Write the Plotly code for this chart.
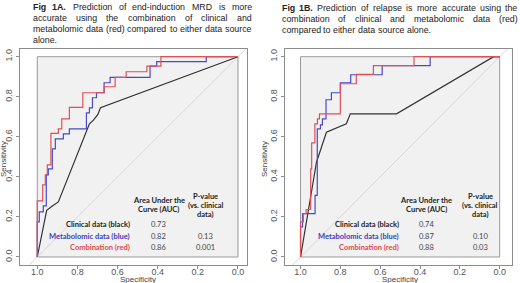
import plotly.graph_objects as go

W, H = 520, 283

# ---------------- data ----------------
# Panel A (end-induction MRD)
a_black_spec = [1.0, 0.953, 0.925, 0.895, 0.74, 0.72, 0.698, 0.685, 0.0]
a_black_sens = [0.0, 0.233, 0.255, 0.275, 0.665, 0.683, 0.712, 0.745, 1.0]

a_blue_spec = [1.0, 1.0, 0.99, 0.99, 0.97, 0.97, 0.955, 0.955, 0.945, 0.945, 0.925, 0.925,
               0.91, 0.91, 0.87, 0.87, 0.84, 0.84, 0.755, 0.755, 0.74, 0.74, 0.725, 0.725,
               0.705, 0.705, 0.667, 0.667, 0.637, 0.637, 0.438, 0.438, 0.405, 0.405,
               0.158, 0.158, 0.0]
a_blue_sens = [0.0, 0.175, 0.175, 0.225, 0.225, 0.255, 0.255, 0.41, 0.41, 0.44, 0.44, 0.54,
               0.54, 0.59, 0.59, 0.615, 0.615, 0.64, 0.64, 0.72, 0.72, 0.745, 0.745, 0.795,
               0.795, 0.82, 0.82, 0.87, 0.87, 0.897, 0.897, 0.953, 0.953, 0.975,
               0.975, 1.0, 1.0]

a_red_spec = [1.0, 1.0, 0.973, 0.973, 0.96, 0.96, 0.95, 0.95, 0.932, 0.932, 0.895, 0.895,
              0.878, 0.878, 0.84, 0.84, 0.773, 0.773, 0.667, 0.667, 0.612, 0.612,
              0.557, 0.557, 0.454, 0.454, 0.384, 0.384, 0.0]
a_red_sens = [0.0, 0.28, 0.28, 0.36, 0.36, 0.41, 0.41, 0.46, 0.46, 0.617, 0.617, 0.64,
              0.64, 0.69, 0.69, 0.747, 0.747, 0.82, 0.82, 0.85, 0.85, 0.897,
              0.897, 0.925, 0.925, 0.953, 0.953, 1.0, 1.0]

# Panel B (relapse)
b_black_spec = [1.0, 0.92, 0.87, 0.77, 0.75, 0.518, 0.03, 0.0]
b_black_sens = [0.0, 0.473, 0.623, 0.665, 0.715, 0.715, 1.0, 1.0]

b_blue_spec = [1.0, 1.0, 0.99, 0.99, 0.927, 0.927, 0.916, 0.916, 0.9, 0.9, 0.89, 0.89,
               0.872, 0.872, 0.845, 0.845, 0.8, 0.8, 0.748, 0.748, 0.59, 0.59,
               0.349, 0.349, 0.0]
b_blue_sens = [0.0, 0.15, 0.15, 0.217, 0.217, 0.308, 0.308, 0.64, 0.64, 0.66, 0.66, 0.69,
               0.69, 0.785, 0.785, 0.82, 0.82, 0.87, 0.87, 0.91, 0.91, 0.955,
               0.955, 1.0, 1.0]

b_red_spec = [1.0, 1.0, 0.986, 0.986, 0.972, 0.972, 0.949, 0.949, 0.944, 0.944, 0.928, 0.928,
              0.915, 0.915, 0.905, 0.905, 0.8, 0.8, 0.72, 0.72, 0.634, 0.634,
              0.43, 0.43, 0.0]
b_red_sens = [0.0, 0.175, 0.175, 0.217, 0.217, 0.237, 0.237, 0.44, 0.44, 0.57, 0.57, 0.665,
              0.665, 0.69, 0.69, 0.715, 0.715, 0.865, 0.865, 0.912, 0.912, 0.955,
              0.955, 1.0, 1.0]

tick_vals = [1.0, 0.8, 0.6, 0.4, 0.2, 0.0]
tick_text = ["1.0", "0.8", "0.6", "0.4", "0.2", "0.0"]

row_labels = ["Clinical data (black)", "Metabolomic data (blue)", "Combination (red)"]
a_auc = ["0.73", "0.82", "0.86"]
a_pval = ["", "0.13", "0.001"]
b_auc = ["0.74", "0.87", "0.88"]
b_pval = ["", "0.10", "0.03"]

a_caption = ["<b>Fig</b> <b>1A.</b> Prediction of end-induction MRD is more",
             "accurate using the combination of clinical and",
             "metabolomic data (red) compared to either data source",
             "alone."]
b_caption = ["<b>Fig</b> <b>1B.</b> Prediction of relapse is more accurate using the",
             "combination of clinical and metabolomic data (red)",
             "compared to either data source alone."]

# ---------------- styling ----------------
C_BLACK = "#333333"
C_BLUE = "#4848cc"
C_RED = "#e05058"
C_DIAG = "#d6d6d6"
C_BOX = "#9a9a9a"
FONT_R = "Liberation Sans"
FONT_C = "Lato"

# Arial / Liberation Sans advance widths (per 1000 em)
AW = {' ': 278, '(': 333, ')': 333, '-': 333, '.': 278, ',': 278,
      'A': 667, 'B': 667, 'C': 722, 'D': 722, 'E': 667, 'F': 611, 'G': 778, 'H': 722, 'I': 278,
      'M': 833, 'R': 722, 'P': 667,
      'a': 556, 'b': 556, 'c': 500, 'd': 556, 'e': 556, 'f': 278, 'g': 556, 'h': 556, 'i': 222,
      'j': 222, 'k': 500, 'l': 222, 'm': 833, 'n': 556, 'o': 556, 'p': 556, 'q': 556, 'r': 333,
      's': 500, 't': 278, 'u': 556, 'v': 500, 'w': 722, 'x': 500, 'y': 500, 'z': 500}
AWB = {'F': 611, 'i': 278, 'g': 611, 'A': 722, 'B': 722, '.': 278}
for d in '0123456789':
    AW[d] = 556
    AWB[d] = 556


def word_w(tok):
    bold = tok.startswith("<b>")
    t = tok.replace("<b>", "").replace("</b>", "")
    tot = 0
    for ch in t:
        if bold:
            tot += AWB.get(ch, AW.get(ch, 556))
        else:
            tot += AW.get(ch, 556)
    return tot / 1000.0


fig = go.Figure()

def px2paper_x(px):
    return px / W

def px2paper_y(py):
    return 1 - py / H

y_dom = [px2paper_y(265), px2paper_y(48.7)]
panels = [
    dict(xa="x", ya="y"),
    dict(xa="x2", ya="y2"),
]

datasets = [
    [(a_black_spec, a_black_sens, C_BLACK), (a_blue_spec, a_blue_sens, C_BLUE), (a_red_spec, a_red_sens, C_RED)],
    [(b_black_spec, b_black_sens, C_BLACK), (b_blue_spec, b_blue_sens, C_BLUE), (b_red_spec, b_red_sens, C_RED)],
]

for p, ds in zip(panels, datasets):
    fig.add_trace(go.Scatter(x=[1.2, -0.2], y=[-0.2, 1.2], mode="lines",
                             line=dict(color=C_DIAG, width=1), xaxis=p["xa"], yaxis=p["ya"],
                             hoverinfo="skip", showlegend=False))
    for sx, sy, col in ds:
        fig.add_trace(go.Scatter(x=sx, y=sy, mode="lines", line=dict(color=col, width=1.2),
                                 xaxis=p["xa"], yaxis=p["ya"], showlegend=False))
    fig.add_shape(type="rect", xref=p["xa"], yref=p["ya"], x0=1, x1=0, y0=0, y1=1,
                  fillcolor="#f1f1f1", line=dict(color=C_BOX, width=1), layer="below")

axis_common = dict(showgrid=False, zeroline=False, showline=True, mirror=True, automargin=False,
                   linecolor="#8c8c8c", linewidth=1, ticks="outside", ticklen=3,
                   tickcolor="#8c8c8c", tickvals=tick_vals, ticktext=tick_text,
                   tickfont=dict(family=FONT_R, size=9, color="#555555"))

fig.update_layout(
    template="none",
    width=W, height=H, margin=dict(l=0, r=0, t=0, b=0, pad=0), autosize=False,
    paper_bgcolor="white", plot_bgcolor="white",
    xaxis=dict(domain=[px2paper_x(20), px2paper_x(247)], range=[1.086, -0.045], anchor="y",
               ticklabelstandoff=-5, **axis_common),
    yaxis=dict(domain=y_dom, range=[-0.04, 1.04], anchor="x", tickangle=-90, **axis_common),
    xaxis2=dict(domain=[px2paper_x(285), px2paper_x(512)], range=[1.078, -0.062], anchor="y2",
                ticklabelstandoff=-5, **axis_common),
    yaxis2=dict(domain=y_dom, range=[-0.04, 1.04], anchor="x2", tickangle=-90, **axis_common),
)

ann = []
def add_text(text, x, y, xref, yref, size, color, xanchor="center", bold=False, family=FONT_C, angle=0):
    ann.append(dict(text=("<b>%s</b>" % text) if bold else text, x=x, y=y, xref=xref, yref=yref,
                    showarrow=False, xanchor=xanchor, yanchor="middle", textangle=angle,
                    borderpad=0, font=dict(family=family, size=size, color=color)))

def sens_of(py):
    return (256.7 - py) / 200.0

# tables
tables = [
    dict(xa="x", ya="y", lab_x=0.532, auc_x=0.394, p_x=0.16, auc=a_auc, pv=a_pval),
    dict(xa="x2", ya="y2", lab_x=0.503, auc_x=0.368, p_x=0.098, auc=b_auc, pv=b_pval),
]
row_cols = ["#222222", "#3a3ac0", "#e04848"]
for t in tables:
    add_text("Area Under the", t["auc_x"], sens_of(200.7), t["xa"], t["ya"], 7.5, "#222222", bold=True)
    add_text("Curve (AUC)", t["auc_x"], sens_of(209.3), t["xa"], t["ya"], 7.5, "#222222", bold=True)
    add_text("P-value", t["p_x"], sens_of(196), t["xa"], t["ya"], 7.5, "#222222", bold=True)
    add_text("(vs. clinical", t["p_x"], sens_of(205), t["xa"], t["ya"], 7.5, "#222222", bold=True)
    add_text("data)", t["p_x"], sens_of(214.3), t["xa"], t["ya"], 7.5, "#222222", bold=True)
    for i, py in enumerate([224.3, 236, 247.3]):
        add_text(row_labels[i], t["lab_x"], sens_of(py), t["xa"], t["ya"], 7.5, row_cols[i], xanchor="right", bold=True)
        add_text(t["auc"][i], t["auc_x"], sens_of(py), t["xa"], t["ya"], 7.5, "#444444")
        if t["pv"][i]:
            add_text(t["pv"][i], t["p_x"], sens_of(py), t["xa"], t["ya"], 7.5, "#444444")

# axis titles
add_text("Specificity", 0.5, px2paper_y(279.3), "x", "paper", 8, "#444444", family=FONT_R)
add_text("Specificity", 0.5, px2paper_y(279.3), "x2", "paper", 8, "#444444", family=FONT_R)
add_text("Sensitivity", px2paper_x(3), px2paper_y(159), "paper", "paper", 8, "#444444", family=FONT_R, angle=-90)
add_text("Sensitivity", px2paper_x(264), px2paper_y(159), "paper", "paper", 8, "#444444", family=FONT_R, angle=-90)

# captions (justified by placing each word)
captions = [
    dict(lines=a_caption, x0=31.7, x1=250.7, y0=7.3, dy=10.8),
    dict(lines=b_caption, x0=280.7, x1=516.7, y0=8.5, dy=10.8),
]
fs = 99
for c in captions:
    for line in c["lines"][:-1]:
        toks = line.split(" ")
        nat = sum(word_w(t) for t in toks) + AW[' '] / 1000.0 * (len(toks) - 1)
        fs = min(fs, (c["x1"] - c["x0"]) / nat * 0.985)
for c in captions:
    n = len(c["lines"])
    for li, line in enumerate(c["lines"]):
        toks = line.split(" ")
        ws = [word_w(t) * fs for t in toks]
        if li < n - 1 and len(toks) > 1:
            gap = ((c["x1"] - c["x0"]) - sum(ws)) / (len(toks) - 1)
        else:
            gap = AW[' '] / 1000.0 * fs
        x = c["x0"]
        for t, w in zip(toks, ws):
            add_text(t, px2paper_x(x), px2paper_y(c["y0"] + c["dy"] * li), "paper", "paper",
                     fs, "#222222", xanchor="left", family=FONT_R)
            x += w + gap

fig.update_layout(annotations=ann)
fig.write_html("out.html", config={"displayModeBar": False},
               post_script="document.body.style.margin='0';document.body.style.padding='0';document.body.style.overflow='hidden';")
